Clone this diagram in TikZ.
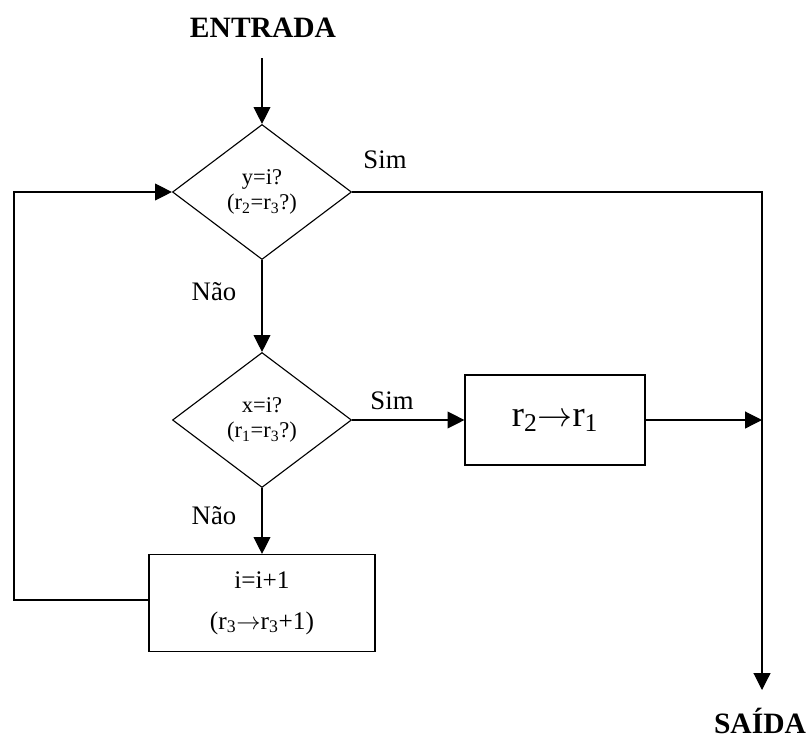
\documentclass[tikz,border=0pt]{standalone}
\usepackage{fontspec}
\setmainfont{Liberation Serif}
\usepackage{tikz}
\usetikzlibrary{arrows.meta,positioning,shapes.geometric}

\newcommand{\seta}{\ensuremath{\mathord{\rightarrow}}}

\begin{document}
\begin{tikzpicture}[x=0.025cm,y=-0.025cm,
  >={Triangle[length=12pt,width=12pt]},
  line width=0.8pt,
  decisao/.style={draw,diamond,inner sep=0pt,minimum width=4.475cm,minimum height=3.375cm,
    align=center,font=\fontsize{16}{18}\selectfont},
  caixa/.style={draw,rectangle,align=center},
  rotulo/.style={font=\fontsize{19}{22}\selectfont},
  titulo/.style={font=\fontsize{21}{24}\selectfont\bfseries}]

\useasboundingbox (0,0) rectangle (807,739);

% Entrada
\node[titulo] (entrada) at (263,28) {ENTRADA};
\coordinate (inicio) at (262,58);

% Teste y=i
\node[decisao] (testey) at (262,192) {y=i?\\(r\textsubscript{2}=r\textsubscript{3}?)};

% Teste x=i
\node[decisao] (testex) at (262,420) {x=i?\\(r\textsubscript{1}=r\textsubscript{3}?)};

% Caixa da direita
\node[caixa,minimum width=4.5cm,minimum height=2.25cm,font=\fontsize{26}{30}\selectfont]
(troca) at (555,420) {r\textsubscript{2}\seta r\textsubscript{1}};

% Caixa de baixo
\node[caixa,minimum width=5.65cm,minimum height=2.425cm,font=\fontsize{18}{29}\selectfont]
(incr) at (262,603) {i=i+1\\(r\textsubscript{3}\seta r\textsubscript{3}+1)};

% Saida
\node[titulo] (saida) at (760,721) {SAÍDA};
\coordinate (fim) at (762,690);
\coordinate (juncao) at (762,420);
\coordinate (voltabaixo) at (14,600);
\coordinate (voltacima) at (14,192);

% Rotulos
\node[rotulo] (sim1) at (385,160) {Sim};
\node[rotulo] (nao1) at (214,292) {Não};
\node[rotulo] (sim2) at (392,401) {Sim};
\node[rotulo] (nao2) at (214,516) {Não};

% Flechas
\draw[->] (inicio) -- (testey.north);
\draw[->] (testey.south) -- (testex.north);
\draw[->] (testex.south) -- (incr.north);
\draw[->] (testex.east) -- (troca.west);
\draw[->] (troca.east) -- (juncao);
\draw[->] (testey.east) -- (testey.east -| fim) -- (fim);
\draw[->] (incr.west |- voltabaixo) -- (voltabaixo) -- (voltacima) -- (testey.west);

\end{tikzpicture}
\end{document}
